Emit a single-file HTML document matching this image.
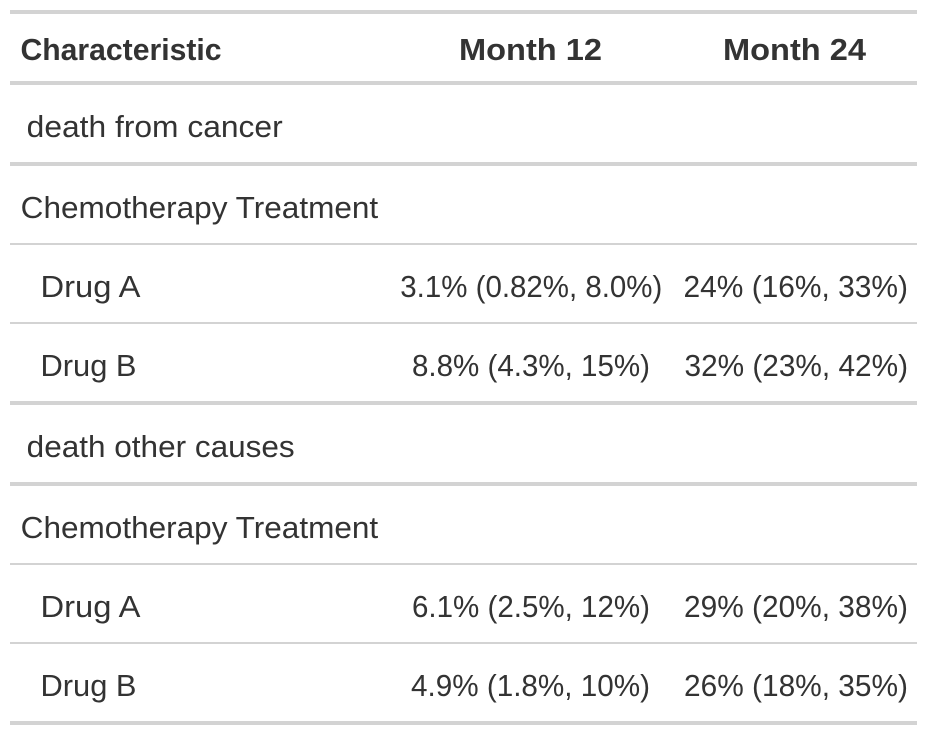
<!DOCTYPE html>
<html>
<head>
<meta charset="utf-8">
<style>
  html, body { margin: 0; padding: 0; background: #ffffff; }
  svg { display: block; }
  text { font-family: "Liberation Sans", "DejaVu Sans", sans-serif; fill: #333333; font-size: 31px; }
  .b { font-weight: bold; font-size: 31px; }
</style>
</head>
<body>
<svg width="927" height="735" viewBox="0 0 927 735" xmlns="http://www.w3.org/2000/svg">
  <rect x="0" y="0" width="927" height="735" fill="#ffffff"/>
  <!-- horizontal rules -->
  <g fill="#D3D3D3">
    <rect x="10" y="10" width="907" height="4"/>
    <rect x="10" y="81" width="907" height="4"/>
    <rect x="10" y="162" width="907" height="4"/>
    <rect x="10" y="243" width="907" height="2"/>
    <rect x="10" y="322" width="907" height="2"/>
    <rect x="10" y="401" width="907" height="4"/>
    <rect x="10" y="482" width="907" height="4"/>
    <rect x="10" y="563" width="907" height="2"/>
    <rect x="10" y="642" width="907" height="2"/>
    <rect x="10" y="721" width="907" height="4"/>
  </g>

  <!-- header -->
  <text class="b" x="20.5" y="60" textLength="201" lengthAdjust="spacingAndGlyphs">Characteristic</text>
  <text class="b" x="459" y="60" textLength="143" lengthAdjust="spacingAndGlyphs">Month 12</text>
  <text class="b" x="723" y="60" textLength="143" lengthAdjust="spacingAndGlyphs">Month 24</text>

  <!-- group 1 -->
  <text x="26.7" y="137" textLength="256" lengthAdjust="spacingAndGlyphs">death from cancer</text>
  <text x="20.7" y="218" textLength="357.5" lengthAdjust="spacingAndGlyphs">Chemotherapy Treatment</text>

  <text x="40.5" y="297" textLength="100" lengthAdjust="spacingAndGlyphs">Drug A</text>
  <text x="400.3" y="297" textLength="262" lengthAdjust="spacingAndGlyphs">3.1% (0.82%, 8.0%)</text>
  <text x="683.5" y="297" textLength="224.5" lengthAdjust="spacingAndGlyphs">24% (16%, 33%)</text>

  <text x="40.5" y="376" textLength="96" lengthAdjust="spacingAndGlyphs">Drug B</text>
  <text x="412" y="376" textLength="238" lengthAdjust="spacingAndGlyphs">8.8% (4.3%, 15%)</text>
  <text x="684.5" y="376" textLength="223.5" lengthAdjust="spacingAndGlyphs">32% (23%, 42%)</text>

  <!-- group 2 -->
  <text x="26.7" y="457" textLength="268" lengthAdjust="spacingAndGlyphs">death other causes</text>
  <text x="20.7" y="538" textLength="357.5" lengthAdjust="spacingAndGlyphs">Chemotherapy Treatment</text>

  <text x="40.5" y="617" textLength="100" lengthAdjust="spacingAndGlyphs">Drug A</text>
  <text x="412" y="617" textLength="238" lengthAdjust="spacingAndGlyphs">6.1% (2.5%, 12%)</text>
  <text x="684" y="617" textLength="224" lengthAdjust="spacingAndGlyphs">29% (20%, 38%)</text>

  <text x="40.5" y="696" textLength="96" lengthAdjust="spacingAndGlyphs">Drug B</text>
  <text x="411" y="696" textLength="239" lengthAdjust="spacingAndGlyphs">4.9% (1.8%, 10%)</text>
  <text x="684" y="696" textLength="224" lengthAdjust="spacingAndGlyphs">26% (18%, 35%)</text>
</svg>
</body>
</html>
